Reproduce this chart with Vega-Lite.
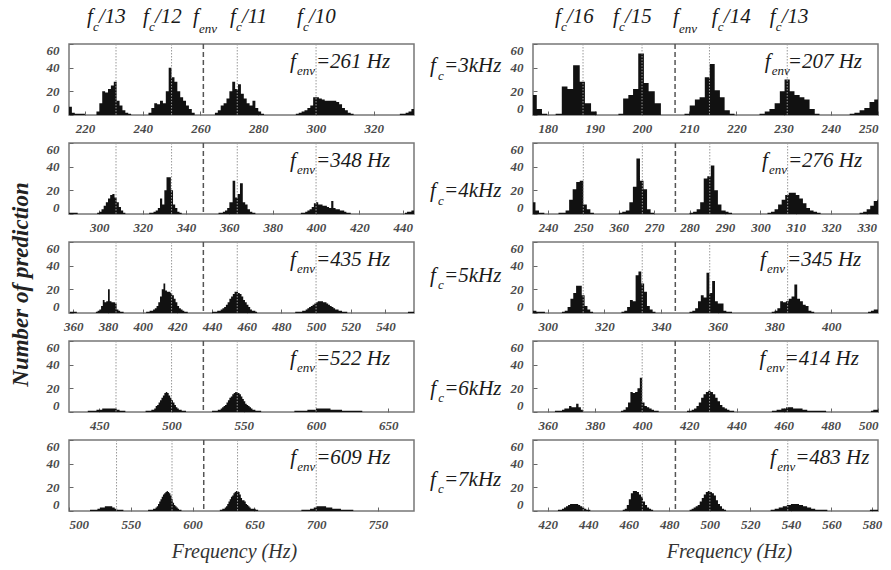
{
"$schema": "https://vega.github.io/schema/vega-lite/v6.json",
"background": "white",
"padding": {"left": 8, "top": 5, "right": 5, "bottom": 5},
"config": {
 "view": {"stroke": "#777", "strokeWidth": 1.5},
 "axis": {"grid": false, "domain": false, "labelOverlap": false, "labelFont": "Liberation Serif", "labelFontStyle": "italic", "labelFontWeight": "bold", "labelFontSize": 13, "labelColor": "#4a4a4a", "tickColor": "#666", "tickSize": -4, "titleFont": "Liberation Serif", "titleFontStyle": "italic", "titleFontWeight": "normal", "titleColor": "#333", "titleFontSize": 20},
 "axisX": {"labelPadding": 11},
 "axisY": {"labelPadding": 14}
},
"datasets": {
"L1": [{"f":214,"n":7},{"f":215.5,"n":2},{"f":216.5,"n":1},{"f":219,"n":1},{"f":220,"n":0},
{"f":224,"n":3},{"f":225,"n":10},{"f":226,"n":20},{"f":227,"n":19},{"f":228,"n":22},{"f":229,"n":25},{"f":230,"n":28},{"f":231,"n":12},{"f":232,"n":8},{"f":233,"n":4},{"f":234,"n":2},{"f":235,"n":1},{"f":236,"n":0},
{"f":242,"n":2},{"f":243,"n":6},{"f":244,"n":10},{"f":245,"n":9},{"f":246,"n":12},{"f":247,"n":10},{"f":248,"n":20},{"f":249,"n":40},{"f":250,"n":32},{"f":251,"n":28},{"f":252,"n":20},{"f":253,"n":15},{"f":254,"n":12},{"f":255,"n":8},{"f":256,"n":5},{"f":257,"n":2},{"f":258,"n":0},
{"f":265,"n":2},{"f":266,"n":4},{"f":267,"n":8},{"f":268,"n":10},{"f":269,"n":14},{"f":270,"n":20},{"f":271,"n":28},{"f":272,"n":22},{"f":273,"n":26},{"f":274,"n":18},{"f":275,"n":14},{"f":276,"n":10},{"f":277,"n":8},{"f":278,"n":12},{"f":279,"n":6},{"f":280,"n":3},{"f":281,"n":1},{"f":282,"n":0},
{"f":293,"n":1},{"f":294,"n":2},{"f":295,"n":3},{"f":296,"n":4},{"f":297,"n":6},{"f":298,"n":8},{"f":299,"n":15},{"f":300,"n":15},{"f":301,"n":14},{"f":302,"n":13},{"f":303,"n":12},{"f":304,"n":12},{"f":305,"n":12},{"f":306,"n":12},{"f":307,"n":11},{"f":308,"n":9},{"f":309,"n":6},{"f":310,"n":4},{"f":311,"n":2},{"f":312,"n":1},{"f":313,"n":0},
{"f":329,"n":1},{"f":330,"n":1},{"f":331,"n":2},{"f":332,"n":3},{"f":333,"n":5},{"f":335,"n":0}],
"R1": [{"f":176,"n":17},{"f":177.7,"n":5},{"f":178.8,"n":1},{"f":179.9,"n":0},
{"f":181.7,"n":1},{"f":183.0,"n":24},{"f":184.2,"n":22},{"f":185.4,"n":42},{"f":186.8,"n":28},{"f":187.9,"n":10},{"f":189.2,"n":3},{"f":190.4,"n":0},
{"f":195.0,"n":1},{"f":196.0,"n":14},{"f":197.1,"n":17},{"f":198.1,"n":22},{"f":199.2,"n":52},{"f":200.4,"n":27},{"f":201.4,"n":20},{"f":202.7,"n":10},{"f":204.0,"n":0},
{"f":209.0,"n":1},{"f":210.1,"n":8},{"f":211.2,"n":13},{"f":212.2,"n":15},{"f":213.3,"n":32},{"f":214.35,"n":43},{"f":215.4,"n":21},{"f":216.5,"n":15},{"f":217.5,"n":4},{"f":218.6,"n":1},{"f":219.6,"n":0},
{"f":224.9,"n":1},{"f":226.0,"n":3},{"f":227.0,"n":5},{"f":228.1,"n":10},{"f":229.2,"n":20},{"f":230.2,"n":30},{"f":231.3,"n":20},{"f":232.3,"n":17},{"f":233.4,"n":15},{"f":234.4,"n":13},{"f":235.5,"n":5},{"f":236.6,"n":1},{"f":237.6,"n":0},
{"f":244.0,"n":1},{"f":245.0,"n":2},{"f":246.1,"n":4},{"f":247.1,"n":6},{"f":248.2,"n":11},{"f":249.2,"n":13},{"f":251,"n":0}],
"L2": [{"f":285,"n":1},{"f":290,"n":0},
{"f":299,"n":1},{"f":300,"n":2},{"f":301,"n":4},{"f":302,"n":7},{"f":303,"n":10},{"f":304,"n":13},{"f":305,"n":16},{"f":306,"n":17},{"f":307,"n":14},{"f":308,"n":10},{"f":309,"n":6},{"f":310,"n":3},{"f":311,"n":1},{"f":312,"n":0},
{"f":323,"n":1},{"f":325,"n":2},{"f":326,"n":3},{"f":327,"n":5},{"f":328,"n":13},{"f":329,"n":8},{"f":330,"n":20},{"f":331,"n":31},{"f":332,"n":31},{"f":333,"n":20},{"f":334,"n":8},{"f":335,"n":5},{"f":336,"n":2},{"f":337,"n":1},{"f":338,"n":0},
{"f":355,"n":1},{"f":357,"n":2},{"f":358,"n":3},{"f":359,"n":5},{"f":360,"n":10},{"f":361.5,"n":28},{"f":362.7,"n":14},{"f":363.8,"n":17},{"f":364.9,"n":26},{"f":366.2,"n":10},{"f":367.3,"n":8},{"f":368.4,"n":4},{"f":369.5,"n":2},{"f":370.6,"n":1},{"f":372,"n":0},
{"f":393,"n":1},{"f":395,"n":2},{"f":396,"n":3},{"f":397,"n":4},{"f":398,"n":6},{"f":399,"n":9},{"f":400,"n":10},{"f":401,"n":8},{"f":402,"n":8},{"f":403,"n":7},{"f":404,"n":7},{"f":405,"n":6},{"f":406,"n":5},{"f":407,"n":11},{"f":408,"n":5},{"f":409,"n":4},{"f":410,"n":4},{"f":411,"n":3},{"f":412,"n":3},{"f":413,"n":2},{"f":414,"n":1},{"f":416,"n":0},
{"f":441,"n":1},{"f":442,"n":2},{"f":443,"n":2},{"f":444,"n":3},{"f":446,"n":0}],
"R2": [{"f":235,"n":10},{"f":236.5,"n":3},{"f":237.5,"n":1},{"f":239,"n":0},
{"f":243,"n":1},{"f":245,"n":3},{"f":246,"n":12},{"f":247,"n":21},{"f":248,"n":27},{"f":249,"n":28},{"f":250,"n":8},{"f":251,"n":4},{"f":252,"n":1},{"f":253,"n":0},
{"f":260,"n":1},{"f":261,"n":2},{"f":262,"n":3},{"f":263,"n":10},{"f":264,"n":23},{"f":265,"n":47},{"f":266,"n":28},{"f":267,"n":21},{"f":268,"n":4},{"f":269,"n":1},{"f":270,"n":0},
{"f":280,"n":1},{"f":281,"n":2},{"f":282,"n":4},{"f":283,"n":10},{"f":284,"n":30},{"f":285,"n":32},{"f":286,"n":41},{"f":287,"n":20},{"f":288,"n":8},{"f":289,"n":3},{"f":290,"n":2},{"f":291,"n":1},{"f":292,"n":0},
{"f":302,"n":1},{"f":303,"n":2},{"f":304,"n":4},{"f":305,"n":8},{"f":306,"n":12},{"f":307,"n":16},{"f":308,"n":18},{"f":309,"n":18},{"f":310,"n":16},{"f":311,"n":13},{"f":312,"n":9},{"f":313,"n":5},{"f":314,"n":3},{"f":315,"n":2},{"f":316,"n":1},{"f":317,"n":0},
{"f":328,"n":1},{"f":329,"n":2},{"f":330,"n":4},{"f":331,"n":7},{"f":332,"n":11},{"f":333,"n":12},{"f":335,"n":0}],
"L3": [{"f":358,"n":1},{"f":362,"n":0},
{"f":373,"n":1},{"f":374,"n":2},{"f":375,"n":3},{"f":376,"n":6},{"f":377,"n":11},{"f":378,"n":9},{"f":379,"n":10},{"f":380,"n":20},{"f":381,"n":10},{"f":382,"n":9},{"f":383,"n":9},{"f":384,"n":8},{"f":385,"n":3},{"f":386,"n":2},{"f":387,"n":1},{"f":389,"n":0},
{"f":402,"n":1},{"f":404,"n":2},{"f":406,"n":3},{"f":407,"n":4},{"f":408,"n":6},{"f":409,"n":9},{"f":410,"n":14},{"f":411,"n":20},{"f":412,"n":25},{"f":413,"n":19},{"f":414,"n":18},{"f":415,"n":18},{"f":416,"n":17},{"f":417,"n":15},{"f":418,"n":12},{"f":419,"n":9},{"f":420,"n":6},{"f":421,"n":4},{"f":422,"n":3},{"f":423,"n":2},{"f":424,"n":1},{"f":426,"n":0},
{"f":440,"n":1},{"f":443,"n":2},{"f":445,"n":3},{"f":446,"n":4},{"f":447,"n":5},{"f":448,"n":7},{"f":449,"n":9},{"f":450,"n":12},{"f":451,"n":14},{"f":452,"n":16},{"f":453,"n":18},{"f":454,"n":18},{"f":455,"n":17},{"f":456,"n":16},{"f":457,"n":14},{"f":458,"n":11},{"f":459,"n":9},{"f":460,"n":7},{"f":461,"n":5},{"f":462,"n":3},{"f":463,"n":2},{"f":465,"n":1},{"f":466,"n":0},
{"f":488,"n":1},{"f":492,"n":2},{"f":494,"n":3},{"f":495,"n":4},{"f":496,"n":5},{"f":497,"n":6},{"f":498,"n":7},{"f":499,"n":8},{"f":500,"n":9},{"f":501,"n":10},{"f":502,"n":10},{"f":503,"n":10},{"f":504,"n":9},{"f":505,"n":9},{"f":506,"n":8},{"f":507,"n":7},{"f":508,"n":6},{"f":509,"n":5},{"f":510,"n":4},{"f":511,"n":3},{"f":512,"n":3},{"f":513,"n":2},{"f":514,"n":2},{"f":515,"n":1},{"f":518,"n":0},
{"f":553,"n":1},{"f":557,"n":0}],
"R3": [{"f":294,"n":2},{"f":296,"n":1},{"f":299,"n":0},
{"f":305,"n":1},{"f":306,"n":2},{"f":307,"n":5},{"f":308,"n":12},{"f":309,"n":17},{"f":310,"n":23},{"f":311,"n":23},{"f":312,"n":15},{"f":313,"n":6},{"f":314,"n":3},{"f":315,"n":1},{"f":316,"n":0},
{"f":326,"n":1},{"f":327,"n":2},{"f":328,"n":5},{"f":329,"n":11},{"f":330,"n":10},{"f":331,"n":32},{"f":332,"n":35},{"f":333,"n":25},{"f":334,"n":18},{"f":335,"n":6},{"f":336,"n":3},{"f":337,"n":1},{"f":338,"n":0},
{"f":350,"n":1},{"f":351,"n":2},{"f":352,"n":4},{"f":353,"n":10},{"f":354,"n":15},{"f":355,"n":13},{"f":356,"n":34},{"f":357,"n":17},{"f":358,"n":27},{"f":359,"n":10},{"f":360,"n":8},{"f":361,"n":8},{"f":362,"n":2},{"f":363,"n":1},{"f":365,"n":0},
{"f":379,"n":1},{"f":380,"n":2},{"f":381,"n":4},{"f":382,"n":10},{"f":383,"n":9},{"f":384,"n":10},{"f":385,"n":12},{"f":386,"n":14},{"f":387,"n":24},{"f":388,"n":12},{"f":389,"n":10},{"f":390,"n":7},{"f":391,"n":6},{"f":392,"n":2},{"f":393,"n":1},{"f":394,"n":0},
{"f":413,"n":1},{"f":414,"n":2},{"f":415,"n":3},{"f":417,"n":0}],
"L4": [{"f":442,"n":1},{"f":444,"n":1},{"f":446,"n":1},{"f":448,"n":2},{"f":450,"n":2},{"f":452,"n":3},{"f":454,"n":3},{"f":456,"n":3},{"f":458,"n":3},{"f":460,"n":3},{"f":462,"n":2},{"f":464,"n":1},{"f":466,"n":1},{"f":468,"n":0},
{"f":482,"n":1},{"f":484,"n":1},{"f":486,"n":2},{"f":488,"n":3},{"f":489,"n":5},{"f":490,"n":6},{"f":491,"n":8},{"f":492,"n":10},{"f":493,"n":12},{"f":494,"n":14},{"f":495,"n":16},{"f":496,"n":17},{"f":497,"n":16},{"f":498,"n":14},{"f":499,"n":12},{"f":500,"n":10},{"f":501,"n":8},{"f":502,"n":6},{"f":503,"n":4},{"f":504,"n":3},{"f":505,"n":2},{"f":506,"n":2},{"f":507,"n":1},{"f":508,"n":1},{"f":510,"n":0},
{"f":528,"n":1},{"f":530,"n":1},{"f":532,"n":2},{"f":534,"n":3},{"f":535,"n":4},{"f":536,"n":5},{"f":537,"n":6},{"f":538,"n":8},{"f":539,"n":10},{"f":540,"n":12},{"f":541,"n":13},{"f":542,"n":15},{"f":543,"n":16},{"f":544,"n":17},{"f":545,"n":17},{"f":546,"n":16},{"f":547,"n":15},{"f":548,"n":13},{"f":549,"n":11},{"f":550,"n":9},{"f":551,"n":7},{"f":552,"n":6},{"f":553,"n":5},{"f":554,"n":4},{"f":555,"n":3},{"f":556,"n":2},{"f":558,"n":1},{"f":562,"n":0},
{"f":585,"n":1},{"f":590,"n":1},{"f":594,"n":2},{"f":596,"n":2},{"f":598,"n":2},{"f":600,"n":3},{"f":602,"n":3},{"f":604,"n":3},{"f":606,"n":3},{"f":608,"n":3},{"f":610,"n":2},{"f":612,"n":2},{"f":614,"n":2},{"f":616,"n":2},{"f":618,"n":1},{"f":622,"n":1},{"f":626,"n":1},{"f":630,"n":1},{"f":632,"n":0}],
"R4": [{"f":363,"n":1},{"f":365,"n":1},{"f":366,"n":2},{"f":367,"n":3},{"f":368,"n":3},{"f":369,"n":5},{"f":370,"n":4},{"f":371,"n":4},{"f":372,"n":7},{"f":373,"n":4},{"f":374,"n":2},{"f":375,"n":0},
{"f":391,"n":1},{"f":392,"n":2},{"f":393,"n":4},{"f":394,"n":8},{"f":395,"n":17},{"f":396,"n":16},{"f":397,"n":17},{"f":398,"n":20},{"f":399,"n":29},{"f":400,"n":8},{"f":401,"n":5},{"f":402,"n":4},{"f":403,"n":3},{"f":404,"n":2},{"f":405,"n":1},{"f":407,"n":0},
{"f":419,"n":1},{"f":421,"n":2},{"f":422,"n":3},{"f":423,"n":5},{"f":424,"n":8},{"f":425,"n":12},{"f":426,"n":15},{"f":427,"n":17},{"f":428,"n":18},{"f":429,"n":17},{"f":430,"n":15},{"f":431,"n":12},{"f":432,"n":9},{"f":433,"n":6},{"f":434,"n":4},{"f":435,"n":3},{"f":436,"n":2},{"f":437,"n":1},{"f":439,"n":0},
{"f":455,"n":1},{"f":457,"n":2},{"f":459,"n":3},{"f":461,"n":4},{"f":463,"n":4},{"f":464,"n":3},{"f":466,"n":3},{"f":468,"n":2},{"f":470,"n":1},{"f":472,"n":1},{"f":475,"n":1},{"f":478,"n":0},
{"f":497,"n":1},{"f":498,"n":2},{"f":501,"n":0}],
"L5": [{"f":517,"n":1},{"f":520,"n":1},{"f":523,"n":2},{"f":525,"n":3},{"f":527,"n":3},{"f":529,"n":4},{"f":531,"n":4},{"f":533,"n":4},{"f":535,"n":3},{"f":537,"n":2},{"f":539,"n":1},{"f":541,"n":1},{"f":544,"n":0},
{"f":564,"n":1},{"f":566,"n":1},{"f":568,"n":2},{"f":570,"n":3},{"f":571,"n":4},{"f":572,"n":6},{"f":573,"n":8},{"f":574,"n":10},{"f":575,"n":12},{"f":576,"n":14},{"f":577,"n":15},{"f":578,"n":16},{"f":579,"n":17},{"f":580,"n":16},{"f":581,"n":15},{"f":582,"n":13},{"f":583,"n":10},{"f":584,"n":7},{"f":585,"n":5},{"f":586,"n":4},{"f":587,"n":3},{"f":588,"n":2},{"f":589,"n":1},{"f":591,"n":0},
{"f":622,"n":1},{"f":624,"n":2},{"f":626,"n":3},{"f":627,"n":4},{"f":628,"n":6},{"f":629,"n":8},{"f":630,"n":10},{"f":631,"n":12},{"f":632,"n":13},{"f":633,"n":15},{"f":634,"n":16},{"f":635,"n":17},{"f":636,"n":17},{"f":637,"n":16},{"f":638,"n":14},{"f":639,"n":11},{"f":640,"n":9},{"f":641,"n":9},{"f":642,"n":8},{"f":643,"n":6},{"f":644,"n":5},{"f":645,"n":4},{"f":646,"n":3},{"f":647,"n":2},{"f":649,"n":2},{"f":651,"n":1},{"f":653,"n":0},
{"f":688,"n":1},{"f":692,"n":1},{"f":695,"n":2},{"f":698,"n":3},{"f":700,"n":4},{"f":702,"n":4},{"f":704,"n":4},{"f":706,"n":4},{"f":708,"n":3},{"f":710,"n":3},{"f":713,"n":2},{"f":716,"n":2},{"f":720,"n":1},{"f":725,"n":1},{"f":730,"n":0}],
"R5": [{"f":425,"n":1},{"f":427,"n":2},{"f":428,"n":3},{"f":429,"n":4},{"f":430,"n":5},{"f":431,"n":6},{"f":432,"n":6},{"f":433,"n":6},{"f":434,"n":6},{"f":435,"n":5},{"f":436,"n":4},{"f":437,"n":3},{"f":438,"n":2},{"f":439,"n":1},{"f":441,"n":0},
{"f":457,"n":1},{"f":458,"n":2},{"f":459,"n":5},{"f":460,"n":10},{"f":461,"n":15},{"f":462,"n":17},{"f":463,"n":17},{"f":464,"n":16},{"f":465,"n":14},{"f":466,"n":12},{"f":467,"n":8},{"f":468,"n":5},{"f":469,"n":3},{"f":470,"n":2},{"f":471,"n":1},{"f":472,"n":0},
{"f":490,"n":1},{"f":491,"n":2},{"f":492,"n":3},{"f":493,"n":4},{"f":494,"n":5},{"f":495,"n":8},{"f":496,"n":11},{"f":497,"n":14},{"f":498,"n":16},{"f":499,"n":17},{"f":500,"n":16},{"f":501,"n":15},{"f":502,"n":13},{"f":503,"n":9},{"f":504,"n":6},{"f":505,"n":4},{"f":506,"n":2},{"f":507,"n":1},{"f":508,"n":0},
{"f":530,"n":1},{"f":532,"n":2},{"f":534,"n":3},{"f":536,"n":4},{"f":538,"n":5},{"f":540,"n":6},{"f":542,"n":6},{"f":544,"n":5},{"f":546,"n":4},{"f":548,"n":3},{"f":550,"n":2},{"f":552,"n":1},{"f":555,"n":1},{"f":558,"n":0},
{"f":579,"n":1},{"f":583,"n":0}],
"v": [
{"p":"L1","x":230.77,"k":"d"},{"p":"L1","x":250,"k":"d"},{"p":"L1","x":272.73,"k":"d"},{"p":"L1","x":300,"k":"d"},{"p":"L1","x":261,"k":"e"},
{"p":"L2","x":307.69,"k":"d"},{"p":"L2","x":333.33,"k":"d"},{"p":"L2","x":363.64,"k":"d"},{"p":"L2","x":400,"k":"d"},{"p":"L2","x":348,"k":"e"},
{"p":"L3","x":384.62,"k":"d"},{"p":"L3","x":416.67,"k":"d"},{"p":"L3","x":454.55,"k":"d"},{"p":"L3","x":500,"k":"d"},{"p":"L3","x":435,"k":"e"},
{"p":"L4","x":461.54,"k":"d"},{"p":"L4","x":500,"k":"d"},{"p":"L4","x":545.45,"k":"d"},{"p":"L4","x":600,"k":"d"},{"p":"L4","x":522,"k":"e"},
{"p":"L5","x":538.46,"k":"d"},{"p":"L5","x":583.33,"k":"d"},{"p":"L5","x":636.36,"k":"d"},{"p":"L5","x":700,"k":"d"},{"p":"L5","x":609,"k":"e"},
{"p":"R1","x":187.5,"k":"d"},{"p":"R1","x":200,"k":"d"},{"p":"R1","x":214.29,"k":"d"},{"p":"R1","x":230.77,"k":"d"},{"p":"R1","x":207,"k":"e"},
{"p":"R2","x":250,"k":"d"},{"p":"R2","x":266.67,"k":"d"},{"p":"R2","x":285.71,"k":"d"},{"p":"R2","x":307.69,"k":"d"},{"p":"R2","x":276,"k":"e"},
{"p":"R3","x":312.5,"k":"d"},{"p":"R3","x":333.33,"k":"d"},{"p":"R3","x":357.14,"k":"d"},{"p":"R3","x":384.62,"k":"d"},{"p":"R3","x":345,"k":"e"},
{"p":"R4","x":375,"k":"d"},{"p":"R4","x":400,"k":"d"},{"p":"R4","x":428.57,"k":"d"},{"p":"R4","x":461.54,"k":"d"},{"p":"R4","x":414,"k":"e"},
{"p":"R5","x":437.5,"k":"d"},{"p":"R5","x":466.67,"k":"d"},{"p":"R5","x":500,"k":"d"},{"p":"R5","x":538.46,"k":"d"},{"p":"R5","x":483,"k":"e"}],
"t": [
{"p":"L1","x":220.73,"y":82.4,"s":"f","k":"b"},{"p":"L1","x":222.81,"y":74,"s":"c","k":"s"},{"p":"L1","x":224.88,"y":82.4,"s":"/13","k":"b"},
{"p":"L1","x":240.1,"y":82.4,"s":"f","k":"b"},{"p":"L1","x":242.18,"y":74,"s":"c","k":"s"},{"p":"L1","x":244.25,"y":82.4,"s":"/12","k":"b"},
{"p":"L1","x":257.4,"y":82.4,"s":"f","k":"b"},{"p":"L1","x":259.48,"y":73,"s":"env","k":"s"},
{"p":"L1","x":270.21,"y":82.4,"s":"f","k":"b"},{"p":"L1","x":272.29,"y":74,"s":"c","k":"s"},{"p":"L1","x":274.36,"y":82.4,"s":"/11","k":"b"},
{"p":"L1","x":293.39,"y":82.4,"s":"f","k":"b"},{"p":"L1","x":295.47,"y":74,"s":"c","k":"s"},{"p":"L1","x":297.54,"y":82.4,"s":"/10","k":"b"},
{"p":"R1","x":181.56,"y":82.4,"s":"f","k":"b"},{"p":"R1","x":182.83,"y":74,"s":"c","k":"s"},{"p":"R1","x":184.1,"y":82.4,"s":"/16","k":"b"},
{"p":"R1","x":193.84,"y":82.4,"s":"f","k":"b"},{"p":"R1","x":195.11,"y":74,"s":"c","k":"s"},{"p":"R1","x":196.38,"y":82.4,"s":"/15","k":"b"},
{"p":"R1","x":206.54,"y":82.4,"s":"f","k":"b"},{"p":"R1","x":207.81,"y":73,"s":"env","k":"s"},
{"p":"R1","x":214.79,"y":82.4,"s":"f","k":"b"},{"p":"R1","x":216.06,"y":74,"s":"c","k":"s"},{"p":"R1","x":217.33,"y":82.4,"s":"/14","k":"b"},
{"p":"R1","x":227.07,"y":82.4,"s":"f","k":"b"},{"p":"R1","x":228.34,"y":74,"s":"c","k":"s"},{"p":"R1","x":229.61,"y":82.4,"s":"/13","k":"b"},
{"p":"L1","x":290.97,"y":45,"s":"f","k":"b"},{"p":"L1","x":293.39,"y":37,"s":"env","k":"s"},{"p":"L1","x":299.96,"y":45,"s":"=261 Hz","k":"b"},
{"p":"L2","x":387.97,"y":45,"s":"f","k":"b"},{"p":"L2","x":391.2,"y":37,"s":"env","k":"s"},{"p":"L2","x":399.97,"y":45,"s":"=348 Hz","k":"b"},
{"p":"L3","x":484.97,"y":45,"s":"f","k":"b"},{"p":"L3","x":489.01,"y":37,"s":"env","k":"s"},{"p":"L3","x":499.97,"y":45,"s":"=435 Hz","k":"b"},
{"p":"L4","x":581.93,"y":45,"s":"f","k":"b"},{"p":"L4","x":586.78,"y":37,"s":"env","k":"s"},{"p":"L4","x":599.92,"y":45,"s":"=522 Hz","k":"b"},
{"p":"L5","x":678.96,"y":45,"s":"f","k":"b"},{"p":"L5","x":684.61,"y":37,"s":"env","k":"s"},{"p":"L5","x":699.95,"y":45,"s":"=609 Hz","k":"b"},
{"p":"R1","x":226.01,"y":45,"s":"f","k":"b"},{"p":"R1","x":227.5,"y":37,"s":"env","k":"s"},{"p":"R1","x":230.88,"y":45,"s":"=207 Hz","k":"b"},
{"p":"R2","x":300.42,"y":45,"s":"f","k":"b"},{"p":"R2","x":302.4,"y":37,"s":"env","k":"s"},{"p":"R2","x":307.76,"y":45,"s":"=276 Hz","k":"b"},
{"p":"R3","x":374.89,"y":45,"s":"f","k":"b"},{"p":"R3","x":377.36,"y":37,"s":"env","k":"s"},{"p":"R3","x":384.41,"y":45,"s":"=345 Hz","k":"b"},
{"p":"R4","x":449.79,"y":45,"s":"f","k":"b"},{"p":"R4","x":452.75,"y":37,"s":"env","k":"s"},{"p":"R4","x":460.37,"y":45,"s":"=414 Hz","k":"b"},
{"p":"R5","x":529.75,"y":45,"s":"f","k":"b"},{"p":"R5","x":533.21,"y":37,"s":"env","k":"s"},{"p":"R5","x":542.1,"y":45,"s":"=483 Hz","k":"b"},
{"p":"R1","x":155.09,"y":41,"s":"f","k":"b"},{"p":"R1","x":156.79,"y":33,"s":"c","k":"s"},{"p":"R1","x":158.06,"y":41,"s":"=3kHz","k":"b"},
{"p":"R2","x":206.73,"y":19.3,"s":"f","k":"b"},{"p":"R2","x":208.99,"y":11.3,"s":"c","k":"s"},{"p":"R2","x":210.68,"y":19.3,"s":"=4kHz","k":"b"},
{"p":"R3","x":258.46,"y":31.5,"s":"f","k":"b"},{"p":"R3","x":261.28,"y":23.5,"s":"c","k":"s"},{"p":"R3","x":263.4,"y":31.5,"s":"=5kHz","k":"b"},
{"p":"R4","x":310.1,"y":19.7,"s":"f","k":"b"},{"p":"R4","x":313.49,"y":11.7,"s":"c","k":"s"},{"p":"R4","x":316.03,"y":19.7,"s":"=6kHz","k":"b"},
{"p":"R5","x":361.83,"y":26.2,"s":"f","k":"b"},{"p":"R5","x":365.78,"y":18.2,"s":"c","k":"s"},{"p":"R5","x":368.74,"y":26.2,"s":"=7kHz","k":"b"}]
},
"columns": 2,
"spacing": {"row": 28, "column": 119},
"bounds": "flush",
"concat": [
{"width": 345, "height": 71, "layer": [
 {"data": {"name": "L1"}, "mark": {"type": "area", "interpolate": "step-after", "color": "#111", "opacity": 1, "clip": true}, "encoding": {"x": {"field": "f", "type": "quantitative", "scale": {"domain": [214.5, 333.9], "nice": false, "zero": false}, "axis": {"values": [220,240,260,280,300,320], "tickCount": 30, "title": null}}, "y": {"field": "n", "type": "quantitative", "scale": {"domain": [0, 60], "nice": false}, "axis": {"values": [0,20,40,60], "tickCount": 10, "title": null, "labelFlush": true}}}},
 {"data": {"name": "v"}, "transform": [{"filter": "datum.p=='L1' && datum.k=='d'"}], "mark": {"type": "rule", "color": "#999", "strokeDash": [1.5, 1.5], "strokeWidth": 1}, "encoding": {"x": {"field": "x", "type": "quantitative"}}},
 {"data": {"name": "v"}, "transform": [{"filter": "datum.p=='L1' && datum.k=='e'"}], "mark": {"type": "rule", "color": "#555", "strokeDash": [5, 3], "strokeWidth": 1.5}, "encoding": {"x": {"field": "x", "type": "quantitative"}}},
 {"data": {"name": "t"}, "transform": [{"filter": "datum.p=='L1' && datum.k=='b'"}], "mark": {"type": "text", "font": "Liberation Serif", "fontStyle": "italic", "fontSize": 21, "align": "left", "baseline": "middle", "color": "#1a1a1a"}, "encoding": {"x": {"field": "x", "type": "quantitative"}, "y": {"field": "y", "type": "quantitative"}, "text": {"field": "s"}}},
 {"data": {"name": "t"}, "transform": [{"filter": "datum.p=='L1' && datum.k=='s'"}], "mark": {"type": "text", "font": "Liberation Serif", "fontStyle": "italic", "fontSize": 13, "align": "left", "baseline": "middle", "color": "#1a1a1a"}, "encoding": {"x": {"field": "x", "type": "quantitative"}, "y": {"field": "y", "type": "quantitative"}, "text": {"field": "s"}}}
]},
{"width": 345, "height": 71, "layer": [
 {"data": {"name": "R1"}, "mark": {"type": "area", "interpolate": "step-after", "color": "#111", "opacity": 1, "clip": true}, "encoding": {"x": {"field": "f", "type": "quantitative", "scale": {"domain": [176.9, 250], "nice": false, "zero": false}, "axis": {"values": [180,190,200,210,220,230,240,250], "tickCount": 30, "title": null}}, "y": {"field": "n", "type": "quantitative", "scale": {"domain": [0, 60], "nice": false}, "axis": {"values": [0,20,40,60], "tickCount": 10, "title": null, "labelFlush": true}}}},
 {"data": {"name": "v"}, "transform": [{"filter": "datum.p=='R1' && datum.k=='d'"}], "mark": {"type": "rule", "color": "#999", "strokeDash": [1.5, 1.5], "strokeWidth": 1}, "encoding": {"x": {"field": "x", "type": "quantitative"}}},
 {"data": {"name": "v"}, "transform": [{"filter": "datum.p=='R1' && datum.k=='e'"}], "mark": {"type": "rule", "color": "#555", "strokeDash": [5, 3], "strokeWidth": 1.5}, "encoding": {"x": {"field": "x", "type": "quantitative"}}},
 {"data": {"name": "t"}, "transform": [{"filter": "datum.p=='R1' && datum.k=='b'"}], "mark": {"type": "text", "font": "Liberation Serif", "fontStyle": "italic", "fontSize": 21, "align": "left", "baseline": "middle", "color": "#1a1a1a"}, "encoding": {"x": {"field": "x", "type": "quantitative"}, "y": {"field": "y", "type": "quantitative"}, "text": {"field": "s"}}},
 {"data": {"name": "t"}, "transform": [{"filter": "datum.p=='R1' && datum.k=='s'"}], "mark": {"type": "text", "font": "Liberation Serif", "fontStyle": "italic", "fontSize": 13, "align": "left", "baseline": "middle", "color": "#1a1a1a"}, "encoding": {"x": {"field": "x", "type": "quantitative"}, "y": {"field": "y", "type": "quantitative"}, "text": {"field": "s"}}}
]},
{"width": 345, "height": 71, "layer": [
 {"data": {"name": "L2"}, "mark": {"type": "area", "interpolate": "step-after", "color": "#111", "opacity": 1, "clip": true}, "encoding": {"x": {"field": "f", "type": "quantitative", "scale": {"domain": [286.0, 445.2], "nice": false, "zero": false}, "axis": {"values": [300,320,340,360,380,400,420,440], "tickCount": 30, "title": null}}, "y": {"field": "n", "type": "quantitative", "scale": {"domain": [0, 60], "nice": false}, "axis": {"values": [0,20,40,60], "tickCount": 10, "title": null, "labelFlush": true}}}},
 {"data": {"name": "v"}, "transform": [{"filter": "datum.p=='L2' && datum.k=='d'"}], "mark": {"type": "rule", "color": "#999", "strokeDash": [1.5, 1.5], "strokeWidth": 1}, "encoding": {"x": {"field": "x", "type": "quantitative"}}},
 {"data": {"name": "v"}, "transform": [{"filter": "datum.p=='L2' && datum.k=='e'"}], "mark": {"type": "rule", "color": "#555", "strokeDash": [5, 3], "strokeWidth": 1.5}, "encoding": {"x": {"field": "x", "type": "quantitative"}}},
 {"data": {"name": "t"}, "transform": [{"filter": "datum.p=='L2' && datum.k=='b'"}], "mark": {"type": "text", "font": "Liberation Serif", "fontStyle": "italic", "fontSize": 21, "align": "left", "baseline": "middle", "color": "#1a1a1a"}, "encoding": {"x": {"field": "x", "type": "quantitative"}, "y": {"field": "y", "type": "quantitative"}, "text": {"field": "s"}}},
 {"data": {"name": "t"}, "transform": [{"filter": "datum.p=='L2' && datum.k=='s'"}], "mark": {"type": "text", "font": "Liberation Serif", "fontStyle": "italic", "fontSize": 13, "align": "left", "baseline": "middle", "color": "#1a1a1a"}, "encoding": {"x": {"field": "x", "type": "quantitative"}, "y": {"field": "y", "type": "quantitative"}, "text": {"field": "s"}}}
]},
{"width": 345, "height": 71, "layer": [
 {"data": {"name": "R2"}, "mark": {"type": "area", "interpolate": "step-after", "color": "#111", "opacity": 1, "clip": true}, "encoding": {"x": {"field": "f", "type": "quantitative", "scale": {"domain": [235.8, 333.2], "nice": false, "zero": false}, "axis": {"values": [240,250,260,270,280,290,300,310,320,330], "tickCount": 30, "title": null, "labelExpr": "datum.value == 260 ? '360' : datum.label"}}, "y": {"field": "n", "type": "quantitative", "scale": {"domain": [0, 60], "nice": false}, "axis": {"values": [0,20,40,60], "tickCount": 10, "title": null, "labelFlush": true}}}},
 {"data": {"name": "v"}, "transform": [{"filter": "datum.p=='R2' && datum.k=='d'"}], "mark": {"type": "rule", "color": "#999", "strokeDash": [1.5, 1.5], "strokeWidth": 1}, "encoding": {"x": {"field": "x", "type": "quantitative"}}},
 {"data": {"name": "v"}, "transform": [{"filter": "datum.p=='R2' && datum.k=='e'"}], "mark": {"type": "rule", "color": "#555", "strokeDash": [5, 3], "strokeWidth": 1.5}, "encoding": {"x": {"field": "x", "type": "quantitative"}}},
 {"data": {"name": "t"}, "transform": [{"filter": "datum.p=='R2' && datum.k=='b'"}], "mark": {"type": "text", "font": "Liberation Serif", "fontStyle": "italic", "fontSize": 21, "align": "left", "baseline": "middle", "color": "#1a1a1a"}, "encoding": {"x": {"field": "x", "type": "quantitative"}, "y": {"field": "y", "type": "quantitative"}, "text": {"field": "s"}}},
 {"data": {"name": "t"}, "transform": [{"filter": "datum.p=='R2' && datum.k=='s'"}], "mark": {"type": "text", "font": "Liberation Serif", "fontStyle": "italic", "fontSize": 13, "align": "left", "baseline": "middle", "color": "#1a1a1a"}, "encoding": {"x": {"field": "x", "type": "quantitative"}, "y": {"field": "y", "type": "quantitative"}, "text": {"field": "s"}}}
]},
{"width": 345, "height": 71, "layer": [
 {"data": {"name": "L3"}, "mark": {"type": "area", "interpolate": "step-after", "color": "#111", "opacity": 1, "clip": true}, "encoding": {"x": {"field": "f", "type": "quantitative", "scale": {"domain": [357.5, 556.5], "nice": false, "zero": false}, "axis": {"values": [360,380,400,420,440,460,480,500,520,540], "tickCount": 30, "title": null}}, "y": {"field": "n", "type": "quantitative", "scale": {"domain": [0, 60], "nice": false}, "axis": {"values": [0,20,40,60], "tickCount": 10, "title": "Number of prediction", "labelFlush": true, "titleFontWeight": "bold", "titleFontSize": 23, "titlePadding": 14, "titleColor": "#222", "titleY": 42}}}},
 {"data": {"name": "v"}, "transform": [{"filter": "datum.p=='L3' && datum.k=='d'"}], "mark": {"type": "rule", "color": "#999", "strokeDash": [1.5, 1.5], "strokeWidth": 1}, "encoding": {"x": {"field": "x", "type": "quantitative"}}},
 {"data": {"name": "v"}, "transform": [{"filter": "datum.p=='L3' && datum.k=='e'"}], "mark": {"type": "rule", "color": "#555", "strokeDash": [5, 3], "strokeWidth": 1.5}, "encoding": {"x": {"field": "x", "type": "quantitative"}}},
 {"data": {"name": "t"}, "transform": [{"filter": "datum.p=='L3' && datum.k=='b'"}], "mark": {"type": "text", "font": "Liberation Serif", "fontStyle": "italic", "fontSize": 21, "align": "left", "baseline": "middle", "color": "#1a1a1a"}, "encoding": {"x": {"field": "x", "type": "quantitative"}, "y": {"field": "y", "type": "quantitative"}, "text": {"field": "s"}}},
 {"data": {"name": "t"}, "transform": [{"filter": "datum.p=='L3' && datum.k=='s'"}], "mark": {"type": "text", "font": "Liberation Serif", "fontStyle": "italic", "fontSize": 13, "align": "left", "baseline": "middle", "color": "#1a1a1a"}, "encoding": {"x": {"field": "x", "type": "quantitative"}, "y": {"field": "y", "type": "quantitative"}, "text": {"field": "s"}}}
]},
{"width": 345, "height": 71, "layer": [
 {"data": {"name": "R3"}, "mark": {"type": "area", "interpolate": "step-after", "color": "#111", "opacity": 1, "clip": true}, "encoding": {"x": {"field": "f", "type": "quantitative", "scale": {"domain": [294.8, 416.5], "nice": false, "zero": false}, "axis": {"values": [300,320,340,360,380,400], "tickCount": 30, "title": null}}, "y": {"field": "n", "type": "quantitative", "scale": {"domain": [0, 60], "nice": false}, "axis": {"values": [0,20,40,60], "tickCount": 10, "title": null, "labelFlush": true}}}},
 {"data": {"name": "v"}, "transform": [{"filter": "datum.p=='R3' && datum.k=='d'"}], "mark": {"type": "rule", "color": "#999", "strokeDash": [1.5, 1.5], "strokeWidth": 1}, "encoding": {"x": {"field": "x", "type": "quantitative"}}},
 {"data": {"name": "v"}, "transform": [{"filter": "datum.p=='R3' && datum.k=='e'"}], "mark": {"type": "rule", "color": "#555", "strokeDash": [5, 3], "strokeWidth": 1.5}, "encoding": {"x": {"field": "x", "type": "quantitative"}}},
 {"data": {"name": "t"}, "transform": [{"filter": "datum.p=='R3' && datum.k=='b'"}], "mark": {"type": "text", "font": "Liberation Serif", "fontStyle": "italic", "fontSize": 21, "align": "left", "baseline": "middle", "color": "#1a1a1a"}, "encoding": {"x": {"field": "x", "type": "quantitative"}, "y": {"field": "y", "type": "quantitative"}, "text": {"field": "s"}}},
 {"data": {"name": "t"}, "transform": [{"filter": "datum.p=='R3' && datum.k=='s'"}], "mark": {"type": "text", "font": "Liberation Serif", "fontStyle": "italic", "fontSize": 13, "align": "left", "baseline": "middle", "color": "#1a1a1a"}, "encoding": {"x": {"field": "x", "type": "quantitative"}, "y": {"field": "y", "type": "quantitative"}, "text": {"field": "s"}}}
]},
{"width": 345, "height": 71, "layer": [
 {"data": {"name": "L4"}, "mark": {"type": "area", "interpolate": "step-after", "color": "#111", "opacity": 1, "clip": true}, "encoding": {"x": {"field": "f", "type": "quantitative", "scale": {"domain": [429.0, 667.8], "nice": false, "zero": false}, "axis": {"values": [450,500,550,600,650], "tickCount": 30, "title": null}}, "y": {"field": "n", "type": "quantitative", "scale": {"domain": [0, 60], "nice": false}, "axis": {"values": [0,20,40,60], "tickCount": 10, "title": null, "labelFlush": true}}}},
 {"data": {"name": "v"}, "transform": [{"filter": "datum.p=='L4' && datum.k=='d'"}], "mark": {"type": "rule", "color": "#999", "strokeDash": [1.5, 1.5], "strokeWidth": 1}, "encoding": {"x": {"field": "x", "type": "quantitative"}}},
 {"data": {"name": "v"}, "transform": [{"filter": "datum.p=='L4' && datum.k=='e'"}], "mark": {"type": "rule", "color": "#555", "strokeDash": [5, 3], "strokeWidth": 1.5}, "encoding": {"x": {"field": "x", "type": "quantitative"}}},
 {"data": {"name": "t"}, "transform": [{"filter": "datum.p=='L4' && datum.k=='b'"}], "mark": {"type": "text", "font": "Liberation Serif", "fontStyle": "italic", "fontSize": 21, "align": "left", "baseline": "middle", "color": "#1a1a1a"}, "encoding": {"x": {"field": "x", "type": "quantitative"}, "y": {"field": "y", "type": "quantitative"}, "text": {"field": "s"}}},
 {"data": {"name": "t"}, "transform": [{"filter": "datum.p=='L4' && datum.k=='s'"}], "mark": {"type": "text", "font": "Liberation Serif", "fontStyle": "italic", "fontSize": 13, "align": "left", "baseline": "middle", "color": "#1a1a1a"}, "encoding": {"x": {"field": "x", "type": "quantitative"}, "y": {"field": "y", "type": "quantitative"}, "text": {"field": "s"}}}
]},
{"width": 345, "height": 71, "layer": [
 {"data": {"name": "R4"}, "mark": {"type": "area", "interpolate": "step-after", "color": "#111", "opacity": 1, "clip": true}, "encoding": {"x": {"field": "f", "type": "quantitative", "scale": {"domain": [353.7, 500], "nice": false, "zero": false}, "axis": {"values": [360,380,400,420,440,460,480,500], "tickCount": 30, "title": null}}, "y": {"field": "n", "type": "quantitative", "scale": {"domain": [0, 60], "nice": false}, "axis": {"values": [0,20,40,60], "tickCount": 10, "title": null, "labelFlush": true}}}},
 {"data": {"name": "v"}, "transform": [{"filter": "datum.p=='R4' && datum.k=='d'"}], "mark": {"type": "rule", "color": "#999", "strokeDash": [1.5, 1.5], "strokeWidth": 1}, "encoding": {"x": {"field": "x", "type": "quantitative"}}},
 {"data": {"name": "v"}, "transform": [{"filter": "datum.p=='R4' && datum.k=='e'"}], "mark": {"type": "rule", "color": "#555", "strokeDash": [5, 3], "strokeWidth": 1.5}, "encoding": {"x": {"field": "x", "type": "quantitative"}}},
 {"data": {"name": "t"}, "transform": [{"filter": "datum.p=='R4' && datum.k=='b'"}], "mark": {"type": "text", "font": "Liberation Serif", "fontStyle": "italic", "fontSize": 21, "align": "left", "baseline": "middle", "color": "#1a1a1a"}, "encoding": {"x": {"field": "x", "type": "quantitative"}, "y": {"field": "y", "type": "quantitative"}, "text": {"field": "s"}}},
 {"data": {"name": "t"}, "transform": [{"filter": "datum.p=='R4' && datum.k=='s'"}], "mark": {"type": "text", "font": "Liberation Serif", "fontStyle": "italic", "fontSize": 13, "align": "left", "baseline": "middle", "color": "#1a1a1a"}, "encoding": {"x": {"field": "x", "type": "quantitative"}, "y": {"field": "y", "type": "quantitative"}, "text": {"field": "s"}}}
]},
{"width": 345, "height": 71, "layer": [
 {"data": {"name": "L5"}, "mark": {"type": "area", "interpolate": "step-after", "color": "#111", "opacity": 1, "clip": true}, "encoding": {"x": {"field": "f", "type": "quantitative", "scale": {"domain": [500, 779.1], "nice": false, "zero": false}, "axis": {"values": [500,550,600,650,700,750], "tickCount": 30, "title": "Frequency (Hz)", "titlePadding": 10, "titleX": 165}}, "y": {"field": "n", "type": "quantitative", "scale": {"domain": [0, 60], "nice": false}, "axis": {"values": [0,20,40,60], "tickCount": 10, "title": null, "labelFlush": true}}}},
 {"data": {"name": "v"}, "transform": [{"filter": "datum.p=='L5' && datum.k=='d'"}], "mark": {"type": "rule", "color": "#999", "strokeDash": [1.5, 1.5], "strokeWidth": 1}, "encoding": {"x": {"field": "x", "type": "quantitative"}}},
 {"data": {"name": "v"}, "transform": [{"filter": "datum.p=='L5' && datum.k=='e'"}], "mark": {"type": "rule", "color": "#555", "strokeDash": [5, 3], "strokeWidth": 1.5}, "encoding": {"x": {"field": "x", "type": "quantitative"}}},
 {"data": {"name": "t"}, "transform": [{"filter": "datum.p=='L5' && datum.k=='b'"}], "mark": {"type": "text", "font": "Liberation Serif", "fontStyle": "italic", "fontSize": 21, "align": "left", "baseline": "middle", "color": "#1a1a1a"}, "encoding": {"x": {"field": "x", "type": "quantitative"}, "y": {"field": "y", "type": "quantitative"}, "text": {"field": "s"}}},
 {"data": {"name": "t"}, "transform": [{"filter": "datum.p=='L5' && datum.k=='s'"}], "mark": {"type": "text", "font": "Liberation Serif", "fontStyle": "italic", "fontSize": 13, "align": "left", "baseline": "middle", "color": "#1a1a1a"}, "encoding": {"x": {"field": "x", "type": "quantitative"}, "y": {"field": "y", "type": "quantitative"}, "text": {"field": "s"}}}
]},
{"width": 345, "height": 71, "layer": [
 {"data": {"name": "R5"}, "mark": {"type": "area", "interpolate": "step-after", "color": "#111", "opacity": 1, "clip": true}, "encoding": {"x": {"field": "f", "type": "quantitative", "scale": {"domain": [412.7, 583.0], "nice": false, "zero": false}, "axis": {"values": [420,440,460,480,500,520,540,560,580], "tickCount": 30, "title": "Frequency (Hz)", "titlePadding": 10, "titleX": 196}}, "y": {"field": "n", "type": "quantitative", "scale": {"domain": [0, 60], "nice": false}, "axis": {"values": [0,20,40,60], "tickCount": 10, "title": null, "labelFlush": true}}}},
 {"data": {"name": "v"}, "transform": [{"filter": "datum.p=='R5' && datum.k=='d'"}], "mark": {"type": "rule", "color": "#999", "strokeDash": [1.5, 1.5], "strokeWidth": 1}, "encoding": {"x": {"field": "x", "type": "quantitative"}}},
 {"data": {"name": "v"}, "transform": [{"filter": "datum.p=='R5' && datum.k=='e'"}], "mark": {"type": "rule", "color": "#555", "strokeDash": [5, 3], "strokeWidth": 1.5}, "encoding": {"x": {"field": "x", "type": "quantitative"}}},
 {"data": {"name": "t"}, "transform": [{"filter": "datum.p=='R5' && datum.k=='b'"}], "mark": {"type": "text", "font": "Liberation Serif", "fontStyle": "italic", "fontSize": 21, "align": "left", "baseline": "middle", "color": "#1a1a1a"}, "encoding": {"x": {"field": "x", "type": "quantitative"}, "y": {"field": "y", "type": "quantitative"}, "text": {"field": "s"}}},
 {"data": {"name": "t"}, "transform": [{"filter": "datum.p=='R5' && datum.k=='s'"}], "mark": {"type": "text", "font": "Liberation Serif", "fontStyle": "italic", "fontSize": 13, "align": "left", "baseline": "middle", "color": "#1a1a1a"}, "encoding": {"x": {"field": "x", "type": "quantitative"}, "y": {"field": "y", "type": "quantitative"}, "text": {"field": "s"}}}
]}
]
}
